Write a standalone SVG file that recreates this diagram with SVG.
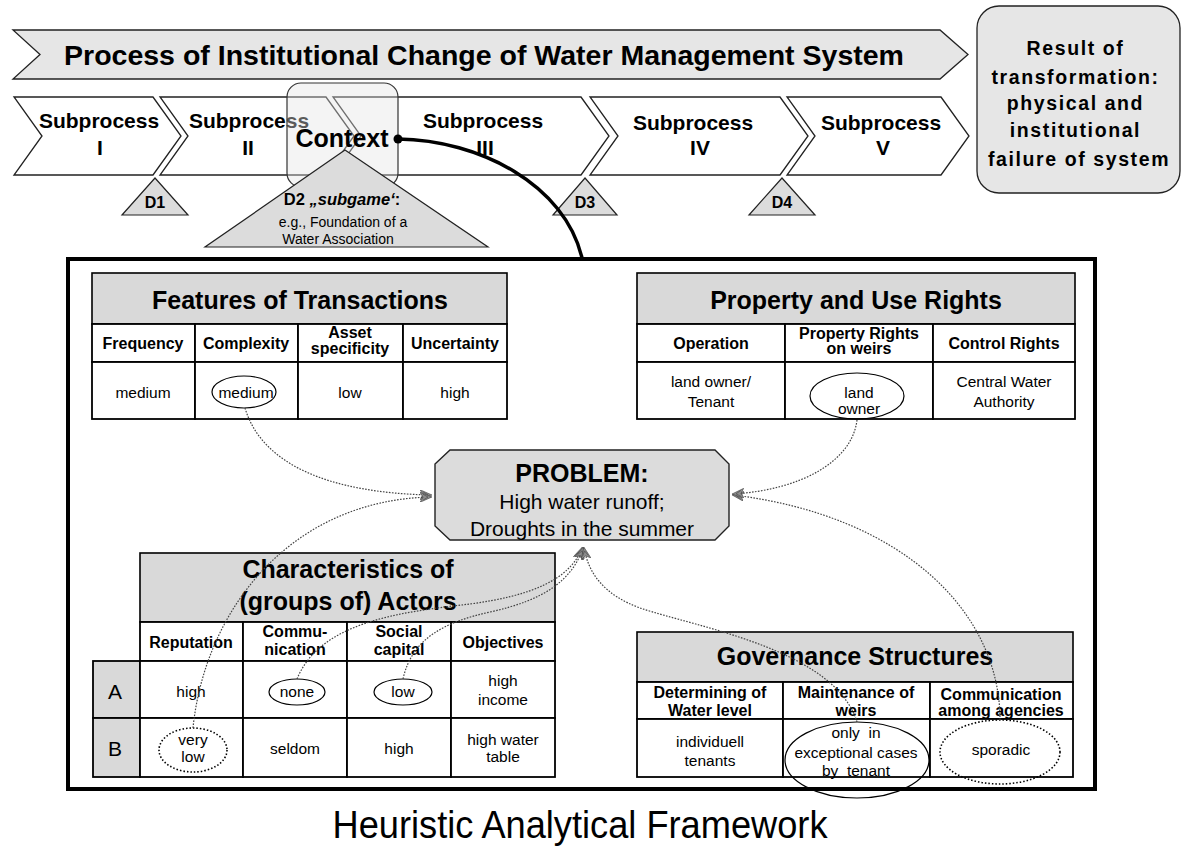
<svg xmlns="http://www.w3.org/2000/svg" width="1182" height="846" viewBox="0 0 1182 846">
  <defs>
    <style>
      text { font-family: "Liberation Sans", Arial, sans-serif; fill: #000; }
      .c { text-anchor: middle; }
      .b { font-weight: bold; }
      .pre { white-space: pre; }
      .ttl { font-weight: bold; font-size: 25px; text-anchor: middle; }
      .col { font-weight: bold; font-size: 16px; text-anchor: middle; }
      .val { font-size: 15.5px; text-anchor: middle; }
      .sub { font-weight: bold; font-size: 21px; text-anchor: middle; }
      .dl { font-weight: bold; font-size: 16px; text-anchor: middle; }
      .chev { fill: #fff; stroke: #222; stroke-width: 1.3; }
      .tri { fill: #dcdcdc; stroke: #222; stroke-width: 1.2; }
      .hdr { fill: #d9d9d9; stroke: #000; stroke-width: 1.6; }
      .cell { fill: #fff; stroke: #000; stroke-width: 1.8; }
      .lbl { fill: #d9d9d9; stroke: #000; stroke-width: 1.8; }
      .ring { fill: none; stroke: #000; stroke-width: 1.2; }
      .ring-dot { fill: none; stroke: #000; stroke-width: 1.6; stroke-dasharray: 1.5 2; }
      .link { fill: none; stroke: #444; stroke-width: 1.2; stroke-dasharray: 1.6 1.4; marker-end: url(#hatch-arrow); }
    </style>
    <marker id="hatch-arrow" viewBox="0 0 12 10" markerUnits="userSpaceOnUse" markerWidth="12" markerHeight="10" refX="11" refY="5" orient="auto">
      <path d="M0,0 L12,5 L0,10 L3,5 Z" fill="#8c8c8c" stroke="#444" stroke-width="0.6"/>
      <path d="M3,2 L8,5 L3,8" fill="none" stroke="#555" stroke-width="0.8"/>
    </marker>
  </defs>

  <rect width="1182" height="846" fill="#fff"/>

  <!-- overall process banner -->
  <g id="process-banner">
    <polygon points="13,30 940,30 968,54.5 940,79 13,79 40,54.5" fill="#e6e6e6" stroke="#222" stroke-width="1.3"/>
    <text x="484" y="65" class="b c" font-size="28.5">Process of Institutional Change of Water Management System</text>
  </g>

  <!-- outcome box -->
  <g id="result">
    <rect x="977" y="6" width="203" height="187" rx="22" fill="#e6e6e6" stroke="#222" stroke-width="1.3"/>
    <text class="b c" font-size="19.5" letter-spacing="1.6">
      <tspan x="1079" y="55">Result of</tspan>
      <tspan x="1079" y="84">transformation:</tspan>
      <tspan x="1079" y="110">physical and</tspan>
      <tspan x="1079" y="137">institutional</tspan>
      <tspan x="1079" y="166">failure of system</tspan>
    </text>
  </g>

  <!-- subprocess chevrons -->
  <g id="subprocess-1">
    <polygon class="chev" points="14,97 153,97 181,136 153,175 14,175 42,136"/>
    <text class="sub" x="99" y="128">Subprocess</text>
    <text class="sub" x="100" y="155">I</text>
  </g>
  <g id="subprocess-2">
    <polygon class="chev" points="160,97 326,97 354,136 326,175 160,175 188,136"/>
    <text class="sub" x="249" y="128">Subprocess</text>
    <text class="sub" x="248" y="155">II</text>
  </g>
  <g id="subprocess-3">
    <polygon class="chev" points="333,97 581,97 609,136 581,175 333,175 361,136"/>
    <text class="sub" x="483" y="128">Subprocess</text>
    <text class="sub" x="485" y="155">III</text>
  </g>
  <g id="subprocess-4">
    <polygon class="chev" points="590,97 780,97 808,136 780,175 590,175 618,136"/>
    <text class="sub" x="693" y="130">Subprocess</text>
    <text class="sub" x="700" y="155">IV</text>
  </g>
  <g id="subprocess-5">
    <polygon class="chev" points="787,97 941,97 969,136 941,175 787,175 815,136"/>
    <text class="sub" x="881" y="130">Subprocess</text>
    <text class="sub" x="883" y="155">V</text>
  </g>

  <!-- context highlight -->
  <g id="context">
    <rect x="287" y="83" width="111" height="104" rx="14" fill="#e4e4e4" fill-opacity="0.4" stroke="#333" stroke-width="1.2"/>
  </g>

  <!-- decision points -->
  <g id="d1">
    <polygon class="tri" points="155,178 188,215 122,215"/>
    <text class="dl" x="155" y="208">D1</text>
  </g>
  <g id="d2">
    <polygon class="tri" points="345,150 488,247 205,247"/>
    <text class="c b" x="342" y="205" font-size="16.5">D2 <tspan font-style="italic">„subgame‘</tspan>:</text>
    <text class="c" x="343" y="227" font-size="14">e.g., Foundation of a</text>
    <text class="c" x="338" y="244" font-size="14">Water Association</text>
  </g>
  <g id="d3">
    <polygon class="tri" points="585,178 617,215 553,215"/>
    <text class="dl" x="585" y="208">D3</text>
  </g>
  <g id="d4">
    <polygon class="tri" points="782,178 815,215 749,215"/>
    <text class="dl" x="782" y="208">D4</text>
  </g>
  <g id="context-label">
    <text class="b c" x="342" y="147" font-size="25">Context</text>
  </g>

  <!-- analytical framework frame -->
  <g id="framework">
    <rect x="68" y="259" width="1027" height="530" fill="#fff" stroke="#000" stroke-width="4"/>
  </g>

  <!-- features of transactions -->
  <g id="transactions">
    <rect class="hdr" x="92" y="273" width="415" height="51"/>
    <text class="ttl" x="300" y="309">Features of Transactions</text>
    <rect class="cell" x="92" y="324" width="103" height="38"/>
    <rect class="cell" x="195" y="324" width="103" height="38"/>
    <rect class="cell" x="298" y="324" width="105" height="38"/>
    <rect class="cell" x="403" y="324" width="104" height="38"/>
    <rect class="cell" x="92" y="362" width="103" height="57"/>
    <rect class="cell" x="195" y="362" width="103" height="57"/>
    <rect class="cell" x="298" y="362" width="105" height="57"/>
    <rect class="cell" x="403" y="362" width="104" height="57"/>
    <text class="col" x="143" y="349">Frequency</text>
    <text class="col" x="246" y="349">Complexity</text>
    <text class="col" x="350" y="338">Asset</text>
    <text class="col" x="350" y="354">specificity</text>
    <text class="col" x="455" y="349">Uncertainty</text>
    <text class="val" x="143" y="398">medium</text>
    <text class="val" x="246" y="398">medium</text>
    <text class="val" x="350" y="398">low</text>
    <text class="val" x="455" y="398">high</text>
    <ellipse class="ring" cx="244" cy="392" rx="32" ry="16"/>
  </g>

  <!-- property and use rights -->
  <g id="rights">
    <rect class="hdr" x="637" y="273" width="438" height="51"/>
    <text class="ttl" x="856" y="309">Property and Use Rights</text>
    <rect class="cell" x="637" y="324" width="148" height="38"/>
    <rect class="cell" x="785" y="324" width="148" height="38"/>
    <rect class="cell" x="933" y="324" width="142" height="38"/>
    <rect class="cell" x="637" y="362" width="148" height="57"/>
    <rect class="cell" x="785" y="362" width="148" height="57"/>
    <rect class="cell" x="933" y="362" width="142" height="57"/>
    <text class="col" x="711" y="349">Operation</text>
    <text class="col" x="859" y="339">Property Rights</text>
    <text class="col" x="859" y="354">on weirs</text>
    <text class="col" x="1004" y="349">Control Rights</text>
    <text class="val" x="711" y="387">land owner/</text>
    <text class="val" x="711" y="407">Tenant</text>
    <text class="val" x="859" y="398">land</text>
    <text class="val" x="859" y="414">owner</text>
    <text class="val" x="1004" y="387">Central Water</text>
    <text class="val" x="1004" y="407">Authority</text>
    <ellipse class="ring" cx="857" cy="396" rx="47" ry="23"/>
  </g>

  <!-- central problem -->
  <g id="problem">
    <polygon points="450,450 715,450 729,464 729,526 715,540 450,540 435,526 435,464" fill="#dcdcdc" stroke="#222" stroke-width="1.4"/>
    <text class="b c" x="582" y="482" font-size="25">PROBLEM:</text>
    <text class="c" x="582" y="509" font-size="21">High water runoff;</text>
    <text class="c" x="582" y="536" font-size="21">Droughts in the summer</text>
  </g>

  <!-- characteristics of actors -->
  <g id="actors">
    <rect class="hdr" x="140" y="553" width="415" height="69"/>
    <text class="ttl" x="348" y="578">Characteristics of</text>
    <text class="ttl" x="348" y="610">(groups of) Actors</text>
    <rect class="cell" x="140" y="622" width="103" height="39"/>
    <rect class="cell" x="243" y="622" width="104" height="39"/>
    <rect class="cell" x="347" y="622" width="104" height="39"/>
    <rect class="cell" x="451" y="622" width="104" height="39"/>
    <rect class="lbl" x="93" y="661" width="47" height="57"/>
    <rect class="lbl" x="93" y="718" width="47" height="59"/>
    <rect class="cell" x="140" y="661" width="103" height="57"/>
    <rect class="cell" x="243" y="661" width="104" height="57"/>
    <rect class="cell" x="347" y="661" width="104" height="57"/>
    <rect class="cell" x="451" y="661" width="104" height="57"/>
    <rect class="cell" x="140" y="718" width="103" height="59"/>
    <rect class="cell" x="243" y="718" width="104" height="59"/>
    <rect class="cell" x="347" y="718" width="104" height="59"/>
    <rect class="cell" x="451" y="718" width="104" height="59"/>
    <text class="col" x="191" y="648">Reputation</text>
    <text class="col" x="295" y="637">Commu-</text>
    <text class="col" x="295" y="655">nication</text>
    <text class="col" x="399" y="637">Social</text>
    <text class="col" x="399" y="655">capital</text>
    <text class="col" x="503" y="648">Objectives</text>
    <text class="c" x="115" y="699" font-size="21">A</text>
    <text class="c" x="115" y="756" font-size="21">B</text>
    <text class="val" x="191" y="697">high</text>
    <text class="val" x="297" y="697">none</text>
    <text class="val" x="403" y="697">low</text>
    <text class="val" x="503" y="686">high</text>
    <text class="val" x="503" y="705">income</text>
    <text class="val" x="193" y="745">very</text>
    <text class="val" x="193" y="762">low</text>
    <text class="val" x="295" y="754">seldom</text>
    <text class="val" x="399" y="754">high</text>
    <text class="val" x="503" y="745">high water</text>
    <text class="val" x="503" y="762">table</text>
    <ellipse class="ring" cx="297" cy="692" rx="28" ry="13"/>
    <ellipse class="ring" cx="403" cy="692" rx="29" ry="13"/>
    <ellipse class="ring-dot" cx="193" cy="750" rx="34" ry="22"/>
  </g>

  <!-- governance structures -->
  <g id="governance">
    <rect class="hdr" x="637" y="632" width="436" height="50"/>
    <text class="ttl" x="855" y="665">Governance Structures</text>
    <rect class="cell" x="637" y="682" width="146" height="37"/>
    <rect class="cell" x="783" y="682" width="147" height="37"/>
    <rect class="cell" x="930" y="682" width="143" height="37"/>
    <rect class="cell" x="637" y="719" width="146" height="58"/>
    <rect class="cell" x="783" y="719" width="147" height="58"/>
    <rect class="cell" x="930" y="719" width="143" height="58"/>
    <text class="col" x="710" y="698" font-size="15.5">Determining of</text>
    <text class="col" x="710" y="716" font-size="15.5">Water level</text>
    <text class="col" x="856" y="698" font-size="15.5">Maintenance of</text>
    <text class="col" x="856" y="716" font-size="15.5">weirs</text>
    <text class="col" x="1001" y="700" font-size="13.5">Communication</text>
    <text class="col" x="1001" y="716" font-size="13.5">among agencies</text>
    <text class="val" x="710" y="747">individuell</text>
    <text class="val" x="710" y="766">tenants</text>
    <text class="val pre" x="856" y="738">only  in</text>
    <text class="val" x="856" y="758">exceptional cases</text>
    <text class="val pre" x="856" y="776">by  tenant</text>
    <text class="val" x="1001" y="755">sporadic</text>
    <ellipse class="ring" cx="857" cy="760" rx="72" ry="38"/>
    <ellipse class="ring-dot" cx="1000" cy="752" rx="60" ry="32"/>
  </g>

  <!-- influence links towards the problem -->
  <g id="connectors">
    <path class="link" d="M245,408 C262,465 330,493 431,495"/>
    <path class="link" d="M193,728 C205,610 290,500 431,497"/>
    <path class="link" d="M297,679 C320,622 400,612 470,604 C530,596 570,580 582,548"/>
    <path class="link" d="M403,679 C412,638 445,622 490,612 C545,600 572,580 583,548"/>
    <path class="link" d="M857,722 C835,650 700,628 640,608 C605,595 589,575 584,548"/>
    <path class="link" d="M1000,720 C1000,610 900,515 733,495"/>
    <path class="link" d="M857,420 C852,462 800,490 733,494"/>
    <path d="M398,139 C480,140 565,185 582,258" fill="none" stroke="#000" stroke-width="3.5"/>
    <circle cx="398" cy="139" r="4.5" fill="#000"/>
  </g>

  <!-- caption -->
  <g id="caption">
    <text class="c" x="580" y="838" font-size="38" textLength="495" lengthAdjust="spacingAndGlyphs">Heuristic Analytical Framework</text>
  </g>
</svg>
